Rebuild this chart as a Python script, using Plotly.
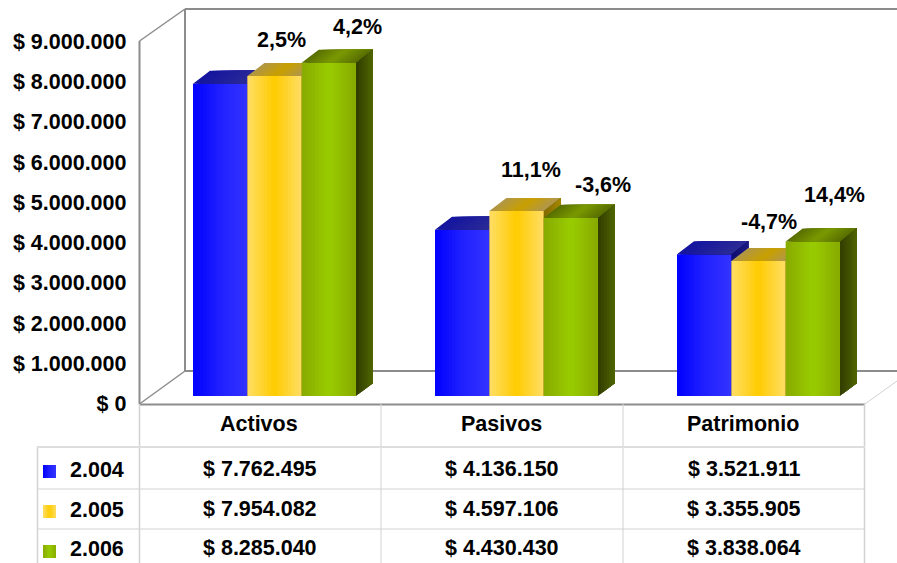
import plotly.graph_objects as go

categories = ["Activos", "Pasivos", "Patrimonio"]
years = ["2.004", "2.005", "2.006"]
values_2004 = [7762495, 4136150, 3521911]
values_2005 = [7954082, 4597106, 3355905]
values_2006 = [8285040, 4430430, 3838064]
pct_2005 = ["2,5%", "11,1%", "-4,7%"]
pct_2006 = ["4,2%", "-3,6%", "14,4%"]
y_ticks = [0, 1000000, 2000000, 3000000, 4000000, 5000000, 6000000, 7000000, 8000000, 9000000]

W, H = 897, 563
FONT = "Liberation Sans"
SIZE = 21.5
CAT_PX = 242.0          # category width
PX_PER_UNIT = 362 / 9000000
LEFT, CENTER0 = 139.5, 260.0
BAR_W = (163 / 3) / CAT_PX
BAR_START = (193 - CENTER0) / CAT_PX
DX = 17 / CAT_PX
DY = 13 / PX_PER_UNIT
LIFT = 7.5 / PX_PER_UNIT   # bars stand in the floor depth
# Hand placement of the percent labels, in px, relative to the default spot
shift_2005 = [(-10, 9), (-3, 14), (-7, 12)]
shift_2006 = [(12, 9), (15, 6), (5, 20)]

front = [
    [(0, (0, 0, 255)), (0.5, (32, 32, 255)), (1, (51, 51, 255))],
    [(0, (255, 221, 102)), (0.5, (255, 204, 0)), (1, (255, 221, 102))],
    [(0, (136, 170, 0)), (0.5, (153, 204, 0)), (1, (136, 170, 0))],
]
top = [
    [(0, (20, 20, 160)), (1, (44, 44, 150))],
    [(0, (176, 150, 72)), (0.5, (200, 160, 0)), (1, (176, 150, 80))],
    [(0, (88, 110, 0)), (0.5, (122, 153, 0)), (1, (88, 110, 0))],
]
side = [
    [(0, (14, 14, 110)), (1, (26, 26, 130))],
    [(0, (130, 105, 0)), (1, (165, 135, 0))],
    [(0, (48, 60, 0)), (1, (80, 102, 0))],
]


def mix(stops, t):
    for (a, ca), (b, cb) in zip(stops, stops[1:]):
        if t <= b:
            f = (t - a) / (b - a)
            return "rgb(%d,%d,%d)" % tuple(round(p + (q - p) * f) for p, q in zip(ca, cb))
    return "rgb(%d,%d,%d)" % stops[-1][1]


def money(v):
    return "$ " + f"{v:,}".replace(",", ".")


def px(x):
    return x / W


def py(y):
    return 1 - y / H


fig = go.Figure()
# Invisible trace keeps the labelled value axis alive
fig.add_trace(go.Scatter(x=[0], y=[0], mode="markers", marker=dict(opacity=0), hoverinfo="skip", yaxis="y"))

series = [values_2004, values_2005, values_2006]
xs = list(range(len(categories)))
N = 16
for s, vals in enumerate(series):
    ya = f"y{s + 2}"
    left = BAR_START + s * BAR_W
    for k in range(N):
        t = k / N
        fig.add_trace(go.Bar(
            x=xs, y=vals, yaxis=ya, offset=left + t * BAR_W, width=BAR_W * (1 - t),
            marker=dict(color=mix(front[s], (k + 0.5) / N), line=dict(width=0)), hoverinfo="skip"))
    for k in range(N):
        t = k / N
        px_, py_ = [], []
        for i, v in zip(xs, vals):
            a = i + left + t * BAR_W
            b = i + left + BAR_W
            px_ += [a, b, b + DX, a + DX, a, None]
            py_ += [v, v, v + DY, v + DY, v, None]
        fig.add_trace(go.Scatter(x=px_, y=py_, yaxis=ya, mode="lines", fill="toself", line=dict(width=0),
                                 fillcolor=mix(top[s], (k + 0.5) / N), hoverinfo="skip"))
    for k in range(6):
        t = k / 6
        px_, py_ = [], []
        for i, v in zip(xs, vals):
            r = i + left + BAR_W
            px_ += [r + t * DX, r + DX, r + DX, r + t * DX, r + t * DX, None]
            py_ += [t * DY, DY, v + DY, v + t * DY, t * DY, None]
        fig.add_trace(go.Scatter(x=px_, y=py_, yaxis=ya, mode="lines", fill="toself", line=dict(width=0),
                                 fillcolor=mix(side[s], (k + 0.5) / 6), hoverinfo="skip"))

GRAY = "#8c8c8c"
LIGHT = "#d2d2d2"
shapes = []


def line(x0, y0, x1, y1, color, width):
    shapes.append(dict(type="line", xref="paper", yref="paper", x0=px(x0), y0=py(y0), x1=px(x1), y1=py(y1),
                       line=dict(color=color, width=width), layer="below"))


# Walls and floor
line(185, 9, 897, 9, GRAY, 2)
line(185, 9, 185, 371, GRAY, 2)
line(185, 371, 897, 371, GRAY, 2)
line(139.5, 41, 139.5, 404, GRAY, 2)
line(139.5, 41, 185, 9, GRAY, 1.5)
line(139.5, 404, 185, 371, GRAY, 1.5)
line(139, 404.5, 865, 404.5, GRAY, 2)
line(865, 404, 897, 381, LIGHT, 1)
# Data table
line(139.5, 404, 139.5, 563, LIGHT, 1.5)
line(381, 404, 381, 563, LIGHT, 1)
line(623, 404, 623, 563, LIGHT, 1)
line(864.5, 404, 864.5, 563, LIGHT, 1.5)
line(37.5, 447, 37.5, 563, LIGHT, 1.5)
line(37, 447, 865, 447, "#dddddd", 2)
line(37, 489, 865, 489, LIGHT, 1)
line(37, 529, 865, 529, LIGHT, 1)

# Legend swatches
for s, y0 in enumerate([465, 505, 545]):
    for k in range(6):
        shapes.append(dict(type="rect", xref="paper", yref="paper",
                           x0=px(43 + 13 * k / 6), x1=px(56), y0=py(y0), y1=py(y0 + 13), line=dict(width=0),
                           fillcolor=mix(front[s], (k + 0.5) / 6)))

txt = dict(family=FONT, size=SIZE, color="#000000", weight=700)
ann = []


def table_text(x, xref, y, text, anchor="center"):
    ann.append(dict(x=x, xref=xref, y=py(y), yref="paper", text=text, showarrow=False,
                    xanchor=anchor, yanchor="middle", font=txt))


for i, c in enumerate(categories):
    table_text(i - 1 / CAT_PX, "x", 424, c)
for s, (yr, y, vals) in enumerate(zip(years, [470, 510, 549], series)):
    table_text(px(67.5), "paper", y, yr, "left")
    for i, v in enumerate(vals):
        table_text(i, "x", y - 1, money(v))

# Percent labels sit above the bars they describe
for i, (p5, p6) in enumerate(zip(pct_2005, pct_2006)):
    for s, p, shift in ((1, p5, shift_2005[i]), (2, p6, shift_2006[i])):
        v = series[s][i]
        ann.append(dict(x=i + BAR_START + (s + 0.5) * BAR_W + DX, xref="x", y=v + DY, yref="y2", text=p,
                        showarrow=False, xanchor="center", yanchor="bottom", font=txt,
                        xshift=shift[0], yshift=shift[1]))

fig.update_layout(
    width=W, height=H, margin=dict(l=0, r=0, t=0, b=0, autoexpand=False), paper_bgcolor="white", plot_bgcolor="white",
    barmode="overlay", showlegend=False, shapes=shapes, annotations=ann, autosize=False,
    xaxis=dict(domain=[LEFT / W, 1], range=[(LEFT - CENTER0) / CAT_PX, (W - CENTER0) / CAT_PX],
               visible=False, fixedrange=True),
    yaxis=dict(domain=[py(403.5), py(41.5)], range=[0, 9000000], tickvals=y_ticks,
               ticktext=[money(v) for v in y_ticks], tickfont=txt, ticks="", showgrid=False,
               zeroline=False, showline=False, ticklabelstandoff=12, fixedrange=True),
)
for n in (2, 3, 4):
    fig.update_layout({f"yaxis{n}": dict(overlaying="y", range=[-LIFT, 9000000 - LIFT], visible=False,
                                         fixedrange=True, showgrid=False, zeroline=False)})

fig.write_html("out.html", config=dict(displayModeBar=False),
               post_script="document.body.style.margin='0';document.body.style.overflow='hidden';")
